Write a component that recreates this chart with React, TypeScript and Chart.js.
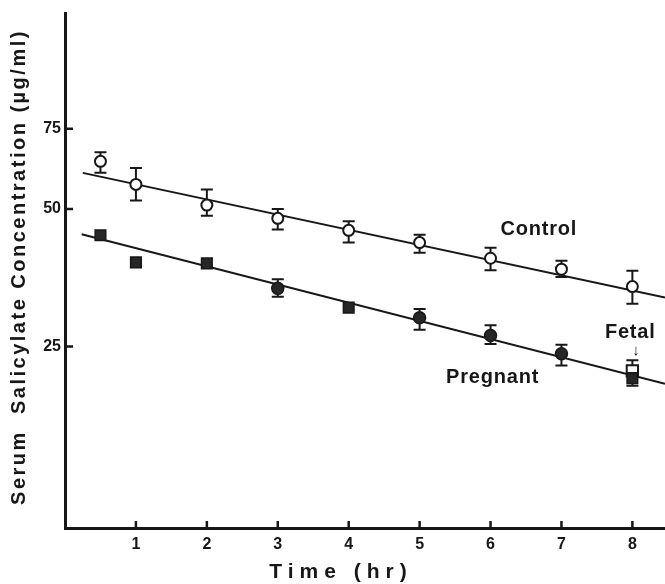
import React, { useEffect, useRef } from "react";
import { Chart, registerables } from "chart.js";

Chart.register(...registerables);

// ---- data ----
const hours = [0.5, 1, 2, 3, 4, 5, 6, 7, 8];
const controlMean = [63.6, 56.6, 51.0, 47.7, 44.9, 42.2, 39.0, 36.9, 33.8];
const controlHigh = [66.6, 61.5, 55.2, 50.0, 47.0, 43.9, 41.1, 38.5, 36.6];
const controlLow = [60.0, 52.2, 48.3, 45.1, 42.2, 40.1, 36.7, 35.5, 31.0];
const pregnantMean = [43.8, 38.2, 38.0, 33.5, 30.4, 28.9, 26.4, 24.1, 21.3];
const pregnantHigh: (number | null)[] = [null, null, null, 35.1, null, 30.2, 27.8, 25.2, null];
const pregnantLow: (number | null)[] = [null, null, null, 32.1, null, 27.2, 25.3, 22.7, null];
const pregnantShapes = ["rect", "rect", "rect", "circle", "rect", "circle", "circle", "circle", "rect"];
const fetalHours = [8];
const fetalMean = [22.1];
const fetalHigh = [23.3];
const fetalLow = [20.5];
const controlFitX = [0.25, 8.46];
const controlFitY = [60.0, 32.0];
const pregnantFitX = [0.235, 8.46];
const pregnantFitY = [44.0, 20.7];
const xTicks = [1, 2, 3, 4, 5, 6, 7, 8];
const yTicks = [25, 50, 75];
const xTitle = "Time (hr)";
const yTitle = "Serum  Salicylate Concentration (\u00b5g/ml)";
const seriesLabels = ["Control", "Pregnant", "Fetal"];
const labelAnchorsX = [6.68, 6.03, 7.97];
const labelAnchorsY = [45.2, 21.35, 26.8];

const INK = "#171717";
const FONT = "'Liberation Sans', Arial, Helvetica, sans-serif";

function pts(xs: number[], ys: number[]) {
  return xs.map((x, i) => ({ x, y: ys[i] }));
}

export default function App() {
  const ref = useRef<HTMLCanvasElement | null>(null);

  useEffect(() => {
    if (!ref.current) return;

    const errorBars = {
      id: "errorBars",
      beforeDatasetDraw(chart: any, args: any) {
        if (args.index !== 2) return;
        const { ctx, scales } = chart;
        const xs = scales.x;
        const ys = scales.y;
        const cap = 6;
        const draw = (xv: number[], lo: (number | null)[], hi: (number | null)[]) => {
          xv.forEach((x, i) => {
            const l = lo[i];
            const h = hi[i];
            if (l == null || h == null) return;
            const px = xs.getPixelForValue(x);
            const p1 = ys.getPixelForValue(l);
            const p2 = ys.getPixelForValue(h);
            ctx.beginPath();
            ctx.moveTo(px, p1);
            ctx.lineTo(px, p2);
            ctx.moveTo(px - cap, p1);
            ctx.lineTo(px + cap, p1);
            ctx.moveTo(px - cap, p2);
            ctx.lineTo(px + cap, p2);
            ctx.stroke();
          });
        };
        ctx.save();
        ctx.strokeStyle = INK;
        ctx.lineWidth = 2;
        draw(hours, controlLow, controlHigh);
        draw(hours, pregnantLow, pregnantHigh);
        draw(fetalHours, fetalLow, fetalHigh);
        ctx.restore();
      },
    };

    const decorations = {
      id: "decorations",
      afterDraw(chart: any) {
        const { ctx, scales, chartArea } = chart;
        const xs = scales.x;
        const ys = scales.y;
        ctx.save();
        ctx.strokeStyle = INK;
        ctx.lineWidth = 2.5;
        // inward tick marks
        ctx.beginPath();
        yTicks.forEach((v) => {
          const py = ys.getPixelForValue(v);
          ctx.moveTo(chartArea.left, py);
          ctx.lineTo(chartArea.left + 8, py);
        });
        xTicks.forEach((v) => {
          const px = xs.getPixelForValue(v);
          ctx.moveTo(px, chartArea.bottom);
          ctx.lineTo(px, chartArea.bottom - 7);
        });
        ctx.stroke();

        ctx.fillStyle = INK;
        ctx.textAlign = "center";
        ctx.textBaseline = "middle";
        // axis titles
        ctx.font = `bold 21px ${FONT}`;
        (ctx as any).letterSpacing = "6px";
        ctx.fillText(xTitle, 341, 572);
        ctx.save();
        ctx.translate(19, 267);
        ctx.rotate(-Math.PI / 2);
        ctx.font = `bold 20px ${FONT}`;
        (ctx as any).letterSpacing = "2.5px";
        ctx.fillText(yTitle, 0, 0);
        ctx.restore();

        // series labels
        ctx.font = `bold 20px ${FONT}`;
        (ctx as any).letterSpacing = "0.8px";
        seriesLabels.forEach((t, i) => {
          ctx.fillText(t, xs.getPixelForValue(labelAnchorsX[i]), ys.getPixelForValue(labelAnchorsY[i]));
        });
        (ctx as any).letterSpacing = "0px";
        // little arrow under "Fetal"
        ctx.font = `bold 15px ${FONT}`;
        ctx.fillText("\u2193", xs.getPixelForValue(8.05), ys.getPixelForValue(24.4));
        ctx.restore();
      },
    };

    const chart = new Chart(ref.current, {
      type: "scatter",
      data: {
        datasets: [
          {
            label: "Pregnant",
            data: pts(hours, pregnantMean),
            pointStyle: pregnantShapes as any,
            pointRadius: pregnantShapes.map((s) => (s === "rect" ? 7.5 : 6)),
            backgroundColor: "#262626",
            borderColor: INK,
            borderWidth: 1.5,
          },
          {
            label: "Fetal",
            data: pts(fetalHours, fetalMean),
            pointStyle: "rect",
            pointRadius: 8,
            backgroundColor: "#ffffff",
            borderColor: INK,
            borderWidth: 2,
          },
          {
            label: "Control",
            data: pts(hours, controlMean),
            pointStyle: "circle",
            pointRadius: 5.5,
            backgroundColor: "#ffffff",
            borderColor: INK,
            borderWidth: 2,
          },
          {
            label: "Pregnant fit",
            data: pts(pregnantFitX, pregnantFitY),
            showLine: true,
            pointRadius: 0,
            borderColor: INK,
            borderWidth: 2,
          },
          {
            label: "Control fit",
            data: pts(controlFitX, controlFitY),
            showLine: true,
            pointRadius: 0,
            borderColor: INK,
            borderWidth: 2,
          },
        ],
      },
      options: {
        responsive: false,
        animation: false,
        layout: { autoPadding: false, padding: { top: 12, right: 0, left: 0, bottom: 0 } },
        plugins: {
          legend: { display: false },
          tooltip: { enabled: false },
        },
        scales: {
          x: {
            type: "linear",
            min: 0,
            max: 8.46,
            afterBuildTicks: (s: any) => {
              s.ticks = xTicks.map((v) => ({ value: v }));
            },
            afterFit: (s: any) => {
              s.height = 56;
            },
            grid: { display: false, drawTicks: false },
            border: { display: true, color: INK, width: 3 },
            ticks: {
              color: INK,
              padding: 7,
              font: { family: FONT, size: 16, weight: "bold" },
              callback: (v: any) => String(v),
            },
          },
          y: {
            type: "logarithmic",
            min: 10,
            max: 134,
            afterBuildTicks: (s: any) => {
              s.ticks = yTicks.map((v) => ({ value: v }));
            },
            afterFit: (s: any) => {
              s.width = 65;
            },
            grid: { display: false, drawTicks: false },
            border: { display: true, color: INK, width: 3 },
            ticks: {
              color: INK,
              padding: 4,
              font: { family: FONT, size: 16, weight: "bold" },
              callback: (v: any) => String(v),
            },
          },
        },
      },
      plugins: [errorBars, decorations],
    });

    return () => chart.destroy();
  }, []);

  return (
    <div style={{ position: "absolute", left: 0, top: 0, width: 665, height: 584, background: "#fff" }}>
      <canvas ref={ref} width={665} height={584} />
    </div>
  );
}
